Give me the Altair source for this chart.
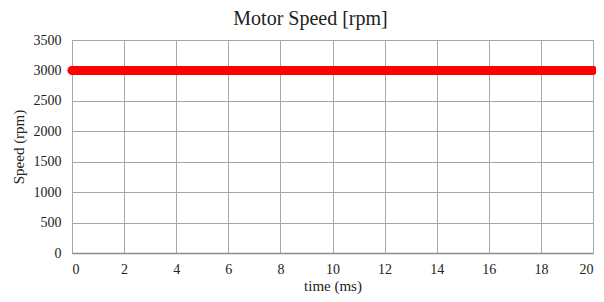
import altair as alt
import pandas as pd

time_ms = [0, 0.5, 1, 1.5, 2, 2.5, 3, 3.5, 4, 4.5, 5, 5.5, 6, 6.5, 7, 7.5, 8, 8.5, 9, 9.5,
           10, 10.5, 11, 11.5, 12, 12.5, 13, 13.5, 14, 14.5, 15, 15.5, 16, 16.5, 17, 17.5,
           18, 18.5, 19, 19.5, 20]
speed_rpm = [3000] * len(time_ms)
x_ticks = [0, 2, 4, 6, 8, 10, 12, 14, 16, 18, 20]
y_ticks = [0, 500, 1000, 1500, 2000, 2500, 3000, 3500]

df = pd.DataFrame({"time": time_ms, "speed": speed_rpm})

FONT = "Liberation Serif"
TXT = "#222222"

x = alt.X("time:Q", title="time (ms)",
          scale=alt.Scale(domain=[0, 20], nice=False, zero=True),
          axis=alt.Axis(values=x_ticks, format="d", titlePadding=2,
                        labelFont=FONT, titleFont=FONT, labelFontSize=14, titleFontSize=15,
                        titleFontWeight="normal", labelColor=TXT, titleColor=TXT,
                        gridColor="#a6a6a6", domainColor="#8c8c8c", domainWidth=1.5,
                        tickSize=0, labelPadding=9))
y = alt.Y("speed:Q", title="Speed (rpm)",
          scale=alt.Scale(domain=[0, 3500], nice=False),
          axis=alt.Axis(values=y_ticks, format="d", titlePadding=7,
                        labelFont=FONT, titleFont=FONT, labelFontSize=14, titleFontSize=15,
                        titleFontWeight="normal", labelColor=TXT, titleColor=TXT,
                        gridColor="#a6a6a6", domain=False,
                        tickSize=0, labelPadding=11))

line = alt.Chart(df).mark_line(color="#ff0000", strokeWidth=9, strokeCap="round").encode(x=x, y=y)
pts = alt.Chart(df).mark_circle(color="#ff0000", size=70, opacity=1).encode(x=x, y=y)

chart = alt.layer(line, pts).properties(
    width=521, height=213,
    title=alt.TitleParams("Motor Speed [rpm]", font=FONT, fontSize=20, fontWeight="normal",
                          color=TXT, offset=4, dx=-22),
    autosize=alt.AutoSizeParams(type="none"),
    padding={"left": 64, "top": 32, "right": 3, "bottom": 41},
).configure_view(stroke="#8c8c8c", strokeWidth=1)

chart.save("out.html", embed_options={"renderer": "svg", "actions": False})
